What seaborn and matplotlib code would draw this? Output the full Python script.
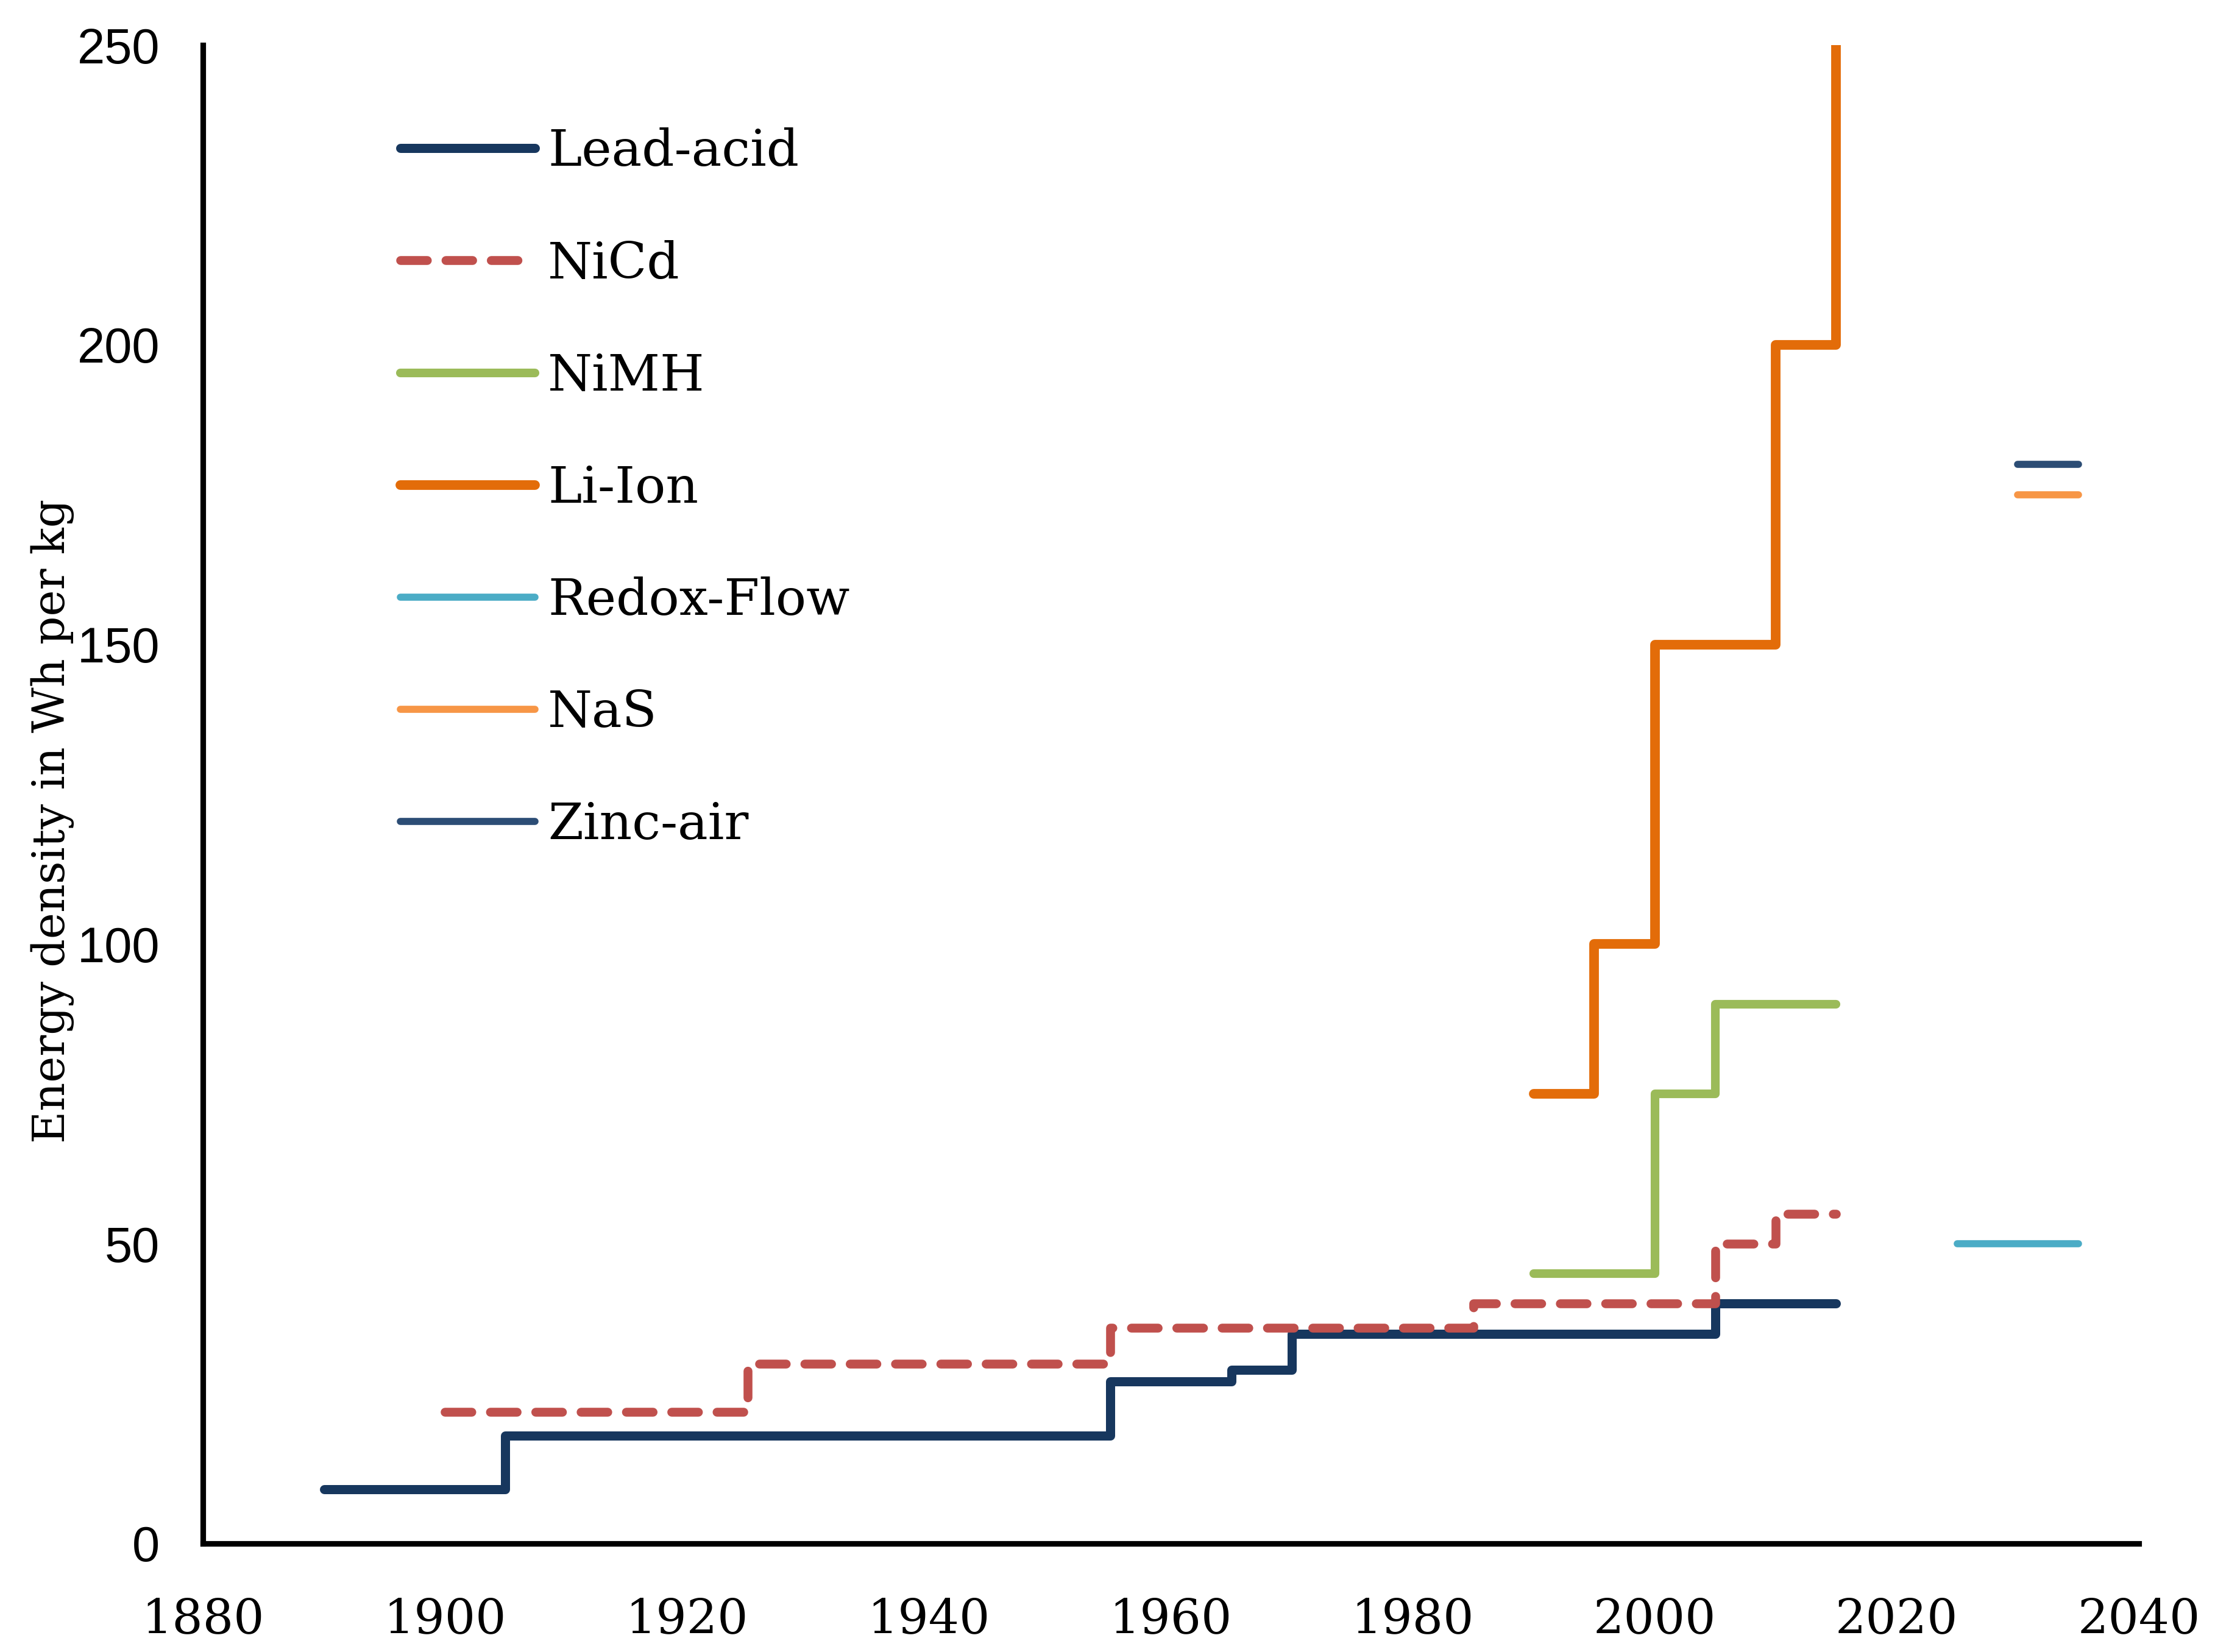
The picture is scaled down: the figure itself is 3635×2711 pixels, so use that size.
import pandas as pd
import numpy as np
import matplotlib
matplotlib.use("Agg")
import matplotlib.pyplot as plt
import seaborn as sns

# step data: year where each level starts, last point closes the step
lead_years = [1890, 1905, 1955, 1965, 1970, 2005, 2015]
lead_vals = [9, 18, 27, 29, 35, 40, 40]
nicd_years = [1900, 1925, 1955, 1985, 2005, 2010, 2015]
nicd_vals = [22, 30, 36, 40, 50, 55, 55]
nimh_years = [1990, 2000, 2005, 2015]
nimh_vals = [45, 75, 90, 90]
liion_years = [1990, 1995, 2000, 2010, 2015]
liion_vals = [75, 100, 150, 200, 250]
redox_years = [2025, 2035]
redox_vals = [50, 50]
nas_years = [2030, 2035]
nas_vals = [175, 175]
zinc_years = [2030, 2035]
zinc_vals = [180, 180]

series = ["Lead-acid", "NiCd", "NiMH", "Li-Ion", "Redox-Flow", "NaS", "Zinc-air"]
colors = ["#17375E", "#C0504D", "#9BBB59", "#E36C09", "#4BACC6", "#F79646", "#2C4D75"]
widths = [3.6, 3.5, 3.4, 3.8, 2.8, 2.8, 2.8]
all_years = [lead_years, nicd_years, nimh_years, liion_years, redox_years, nas_years, zinc_years]
all_vals = [lead_vals, nicd_vals, nimh_vals, liion_vals, redox_vals, nas_vals, zinc_vals]

frames = []
for name, yrs, vals in zip(series, all_years, all_vals):
    frames.append(pd.DataFrame({"year": yrs, "wh": vals, "tech": name}))
df = pd.concat(frames, ignore_index=True)

sns.set_style("white")
serif = ["DejaVu Serif"]

fig, ax = plt.subplots(figsize=(12.12, 9.0367), dpi=300)
plt.subplots_adjust(left=0.0916, right=0.9653, bottom=0.0657, top=0.9727)

for name, col, lw in zip(series, colors, widths):
    sub = df[df["tech"] == name]
    kw = dict(x="year", y="wh", data=sub, color=col, estimator=None, sort=False,
              drawstyle="steps-post", label=name, ax=ax, linewidth=lw,
              solid_capstyle="round")
    if name == "NiCd":
        sns.lineplot(linestyle=(0, (3.0, 2.1)), dash_capstyle="round", **kw)
    else:
        sns.lineplot(**kw)

ax.set_xlim(1880, 2040)
ax.set_ylim(0, 250)
ax.set_xticks(np.arange(1880, 2041, 20))
ax.set_yticks(np.arange(0, 251, 50))
ax.set_xlabel("")
ax.set_ylabel("Energy density in Wh per kg", fontsize=17.5, family=serif, color="black")
ax.yaxis.set_label_coords(-0.0664, 0.482)

for s in ["top", "right"]:
    ax.spines[s].set_visible(False)
for s in ["left", "bottom"]:
    ax.spines[s].set_linewidth(2.2)
    ax.spines[s].set_color("black")

ax.tick_params(axis="x", direction="in", length=6, width=2.2, pad=21, labelsize=19,
               colors="black")
ax.tick_params(axis="y", direction="in", length=6, width=2.2, pad=17, labelsize=19.5,
               colors="black")
for lab in ax.get_xticklabels():
    lab.set_family(serif)
for lab in ax.get_yticklabels():
    lab.set_family(["Liberation Sans"])

leg = ax.legend(loc="upper left", bbox_to_anchor=(0.0916, 0.9585), frameon=False,
                handlelength=2.65, handletextpad=0.25, labelspacing=1.25,
                borderaxespad=0, prop={"family": serif, "size": 20})
for t in leg.get_texts():
    t.set_color("black")

plt.savefig("out.png", dpi=300)
